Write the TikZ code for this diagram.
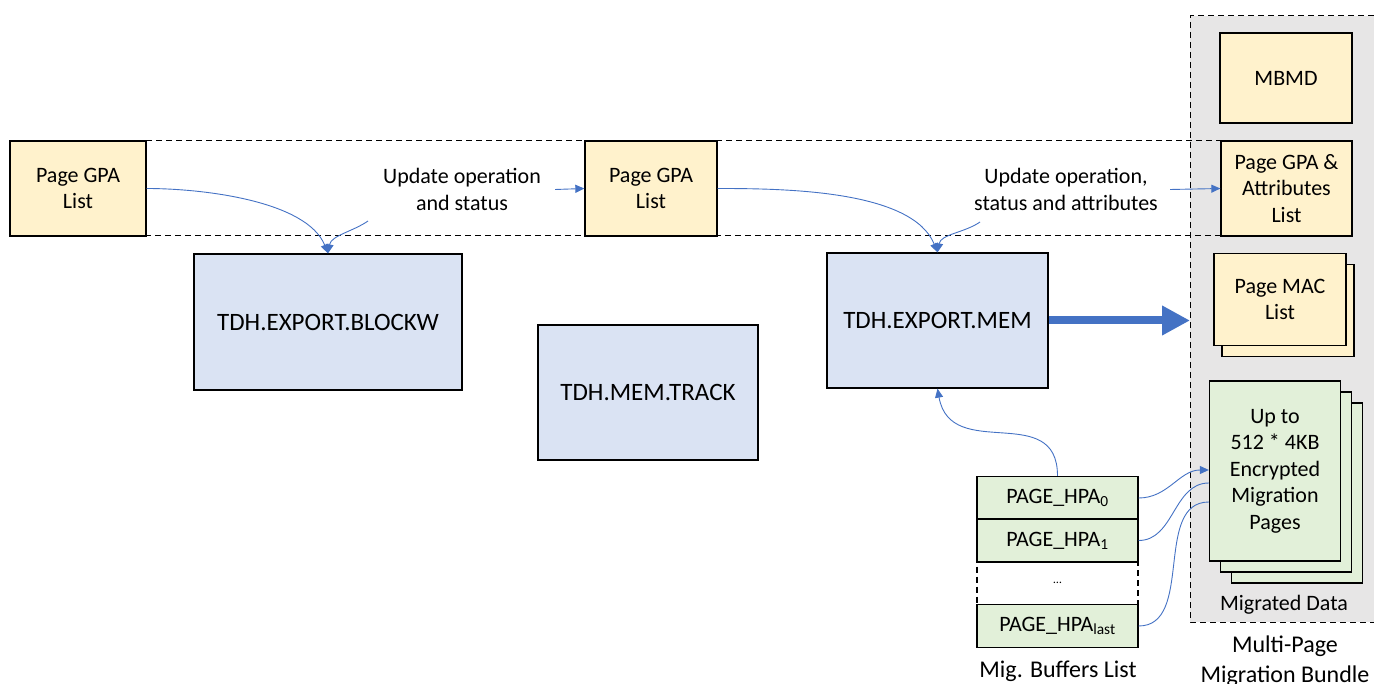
\documentclass[tikz,border=0pt]{standalone}
\usepackage{fontspec}
\setmainfont{Carlito}
\usetikzlibrary{arrows.meta}

\definecolor{gpaYellow}{HTML}{FFF2CC}
\definecolor{tdhBlue}{HTML}{DAE3F3}
\definecolor{bufGreen}{HTML}{E2F0D9}
\definecolor{bundleGray}{HTML}{E7E6E6}
\definecolor{flowBlue}{HTML}{4472C4}

\begin{document}
\begin{tikzpicture}[x=1pt, y=-1pt,
        box/.style={draw, line width=1.3pt, align=center, inner sep=0pt,
                font=\fontsize{22}{26.5}\selectfont},
        gpabox/.style={box, fill=gpaYellow},
        tdhbox/.style={box, fill=tdhBlue, font=\fontsize{25}{30}\selectfont},
        bufbox/.style={box, fill=bufGreen, minimum width=161pt, minimum height=43pt},
        note/.style={align=center, inner sep=0pt, font=\fontsize{22}{26.5}\selectfont},
        caption/.style={align=center, inner sep=0pt, font=\fontsize{24}{30}\selectfont},
        dashedline/.style={dash pattern=on 6pt off 4pt, line width=1pt},
        flow/.style={draw=flowBlue, line width=0.9pt, -{Triangle[length=9pt,width=8pt]}},
        link/.style={draw=flowBlue, line width=0.9pt},
        bigflow/.style={draw=flowBlue, line width=8pt, -{Triangle[length=28pt,width=28pt]}}]
                \useasboundingbox (0,0) rectangle (1374,684);
                \clip (0,0) rectangle (1374,684);
                % bundle area and the dashed GPA band
                \fill[bundleGray] (1190,16) rectangle (1374,622);
                \draw[dashedline] (1374,16) -- (1190,16) -- (1190,622) -- (1374,622);
                \draw[dashedline] (10,141) rectangle (1221,236);

                \node[gpabox, minimum width=136pt, minimum height=95pt] (gpaA) at (78,188.5) {Page GPA\\List};
                \node[gpabox, minimum width=132pt, minimum height=95pt] (gpaB) at (651,188.5) {Page GPA\\List};
                \node[gpabox, minimum width=131pt, minimum height=95pt] (gpaC) at (1286.5,188.5) {Page GPA \&\\Attributes\\List};
                \node[gpabox, minimum width=132pt, minimum height=90pt] (mbmd) at (1286,78) {MBMD};
                \node[gpabox, minimum width=132pt, minimum height=92pt] (macBack) at (1288,310.5) {};
                \node[gpabox, minimum width=132pt, minimum height=92pt] (mac) at (1280,299.5) {Page MAC\\List};

                \node[note] (upA) at (462,189.5) {Update operation\\and status};
                \node[note] (upB) at (1066,189.5) {Update operation,\\status and attributes};

                \node[tdhbox, minimum width=268pt, minimum height=136pt] (blockw) at (328,322) {TDH.EXPORT.BLOCKW};
                \node[tdhbox, minimum width=220pt, minimum height=135pt] (track) at (648,392.5) {TDH.MEM.TRACK};
                \node[tdhbox, minimum width=221pt, minimum height=135pt] (exportmem) at (937.5,320.5) {TDH.EXPORT.MEM};

                % stacked migration pages
                \foreach \d/\n in {22/pagesC, 11/pagesB} {
                        \node[box, fill=bufGreen, minimum width=131pt, minimum height=180pt] (\n) at (1275+\d,471+\d) {};
                }
                \node[box, fill=bufGreen, minimum width=131pt, minimum height=180pt] (pages) at (1275,471)
                        {Up to\\512 * 4KB\\Encrypted\\Migration\\Pages};
                \node[note] (migData) at (1284,605) {Migrated Data};
                \node[caption] (bundle) at (1285,661) {Multi-Page\\Migration Bundle};

                % migration buffers
                \node[box, dash pattern=on 6pt off 4pt, minimum width=161pt, minimum height=43pt,
                        font=\fontsize{12}{14}\selectfont] (hpaDots) at (1057.5,583) {\ldots};
                \node[bufbox] (hpa0) at (1057.5,498) {PAGE\_HPA\textsubscript{0}};
                \node[bufbox] (hpa1) at (1057.5,540.5) {PAGE\_HPA\textsubscript{1}};
                \node[bufbox] (hpaLast) at (1057.5,626) {PAGE\_HPA\textsubscript{last}};
                \node[caption] (bufList) at (1058,671) {Mig. Buffers List};

                \coordinate (upAfoot) at (368,221);
                \coordinate (upBfoot) at (980,222);
                \coordinate (bundleIn) at (1190,320.5);

                \draw[flow] (gpaA.east) to[out=0, in=112, looseness=0.75] (blockw.north);
                \draw[flow] (upAfoot) to[out=215, in=80, looseness=0.9] (blockw.north);
                \draw[flow] ([xshift=14pt]upA.east) -- (gpaB.west);
                \draw[flow] (gpaB.east) to[out=0, in=112, looseness=0.75] (exportmem.north);
                \draw[flow] (upBfoot) to[out=215, in=80, looseness=0.9] (exportmem.north);
                \draw[flow] ([xshift=12pt]upB.east) -- (gpaC.west);
                \draw[flow] (hpa0.north) to[out=90, in=-80, looseness=1.3] (exportmem.south);
                \draw[bigflow] (exportmem.east) -- (bundleIn);

                \draw[flow] (hpa0.east) to[out=0, in=180] ([yshift=1pt]pages.west);
                \draw[link] (hpa1.east) to[out=0, in=180] ([yshift=-12pt]pages.west);
                \draw[link] (hpaLast.east) to[out=0, in=180] ([yshift=-31pt]pages.west);
        \end{tikzpicture}
\end{document}
